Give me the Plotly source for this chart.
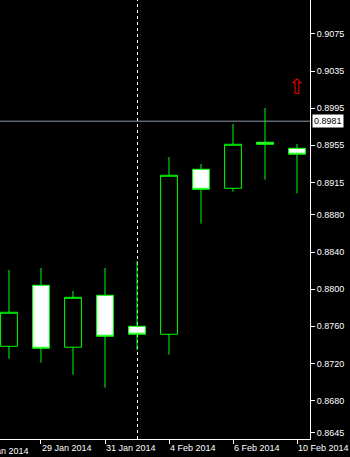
import plotly.graph_objects as go

# ---- data ----
dates = ["28 Jan 2014", "29 Jan 2014", "30 Jan 2014", "31 Jan 2014", "3 Feb 2014",
         "4 Feb 2014", "5 Feb 2014", "6 Feb 2014", "7 Feb 2014", "10 Feb 2014"]
opens  = [0.87384, 0.88042, 0.87374, 0.87934, 0.87600, 0.87514, 0.89292, 0.89087, 0.89583, 0.89518]
highs  = [0.88207, 0.88228, 0.87980, 0.88228, 0.88304, 0.89424, 0.89349, 0.89780, 0.89953, 0.89565]
lows   = [0.87251, 0.87208, 0.87078, 0.86938, 0.87344, 0.87294, 0.88706, 0.89050, 0.89180, 0.89033]
closes = [0.87751, 0.87363, 0.87912, 0.87492, 0.87514, 0.89227, 0.89076, 0.89561, 0.89561, 0.89454]

x_tick_dates = ["29 Jan 2014", "31 Jan 2014", "4 Feb 2014", "6 Feb 2014", "10 Feb 2014"]
offscreen_label = "27 Jan 2014"
y_ticks = [0.9075, 0.9035, 0.8995, 0.8955, 0.8915, 0.8880, 0.8840, 0.8800, 0.8760, 0.8720, 0.8680, 0.8645]
current_price = 0.8981
separator_date = "3 Feb 2014"
signal_date = "10 Feb 2014"
signal_price = 0.9018

y_range = [0.86385, 0.91116]
x_range = [-0.281, 9.406]

FONT = "Liberation Sans"

fig = go.Figure()
fig.add_trace(go.Candlestick(
    x=dates, open=opens, high=highs, low=lows, close=closes,
    increasing=dict(fillcolor="#000000", line=dict(color="#00ff00", width=1)),
    decreasing=dict(fillcolor="#ffffff", line=dict(color="#00ff00", width=1)),
    whiskerwidth=0, showlegend=False, hoverinfo="skip",
))

# separator (dashed) and current price line
fig.add_shape(type="line", xref="x", yref="paper", x0=separator_date, x1=separator_date,
              x0shift=0.016, x1shift=0.016,
              y0=0, y1=1, line=dict(color="#ffffff", width=1, dash="3px,3px"), layer="below")
fig.add_shape(type="line", xref="paper", yref="y", x0=0, x1=1, y0=current_price, y1=current_price,
              line=dict(color="#8a96a4", width=1), layer="below")

# price label box
fig.add_annotation(xref="paper", yref="y", x=1.007, y=current_price, xanchor="left", yanchor="middle",
                   text=f"{current_price:.4f}", showarrow=False, bgcolor="#ffffff",
                   font=dict(family=FONT, size=9, color="#000000"), borderpad=1)

# red signal arrow
fig.add_annotation(xref="x", yref="y", x=signal_date, y=signal_price, text="⇧", showarrow=False,
                   font=dict(family="DejaVu Sans", size=21, color="#e00000"))

# partially visible date label on the left
fig.add_annotation(xref="paper", yref="paper", x=-23 / 310, y=0, xanchor="left", yanchor="top",
                   yshift=-5, text=offscreen_label, showarrow=False,
                   font=dict(family=FONT, size=9, color="#ffffff"))

fig.update_layout(
    width=350, height=457,
    margin=dict(l=0, r=40, t=0, b=18),
    paper_bgcolor="#000000", plot_bgcolor="#000000",
    boxgap=0.25,
    showlegend=False,
    xaxis=dict(
        type="category", range=x_range, rangeslider=dict(visible=False),
        tickvals=x_tick_dates, ticktext=x_tick_dates,
        ticks="outside", ticklen=4, tickcolor="#ffffff",
        ticklabelposition="outside right",
        showline=True, linecolor="#ffffff", linewidth=1, showgrid=False, zeroline=False,
        tickfont=dict(family=FONT, size=9, color="#ffffff"),
    ),
    yaxis=dict(
        side="right", range=y_range,
        tickvals=y_ticks, ticktext=[f"{v:.4f}" for v in y_ticks],
        ticks="outside", ticklen=4, tickcolor="#ffffff",
        showline=True, linecolor="#ffffff", linewidth=1, showgrid=False, zeroline=False,
        tickfont=dict(family=FONT, size=9, color="#ffffff"),
    ),
)

fig.write_html("out.html")
